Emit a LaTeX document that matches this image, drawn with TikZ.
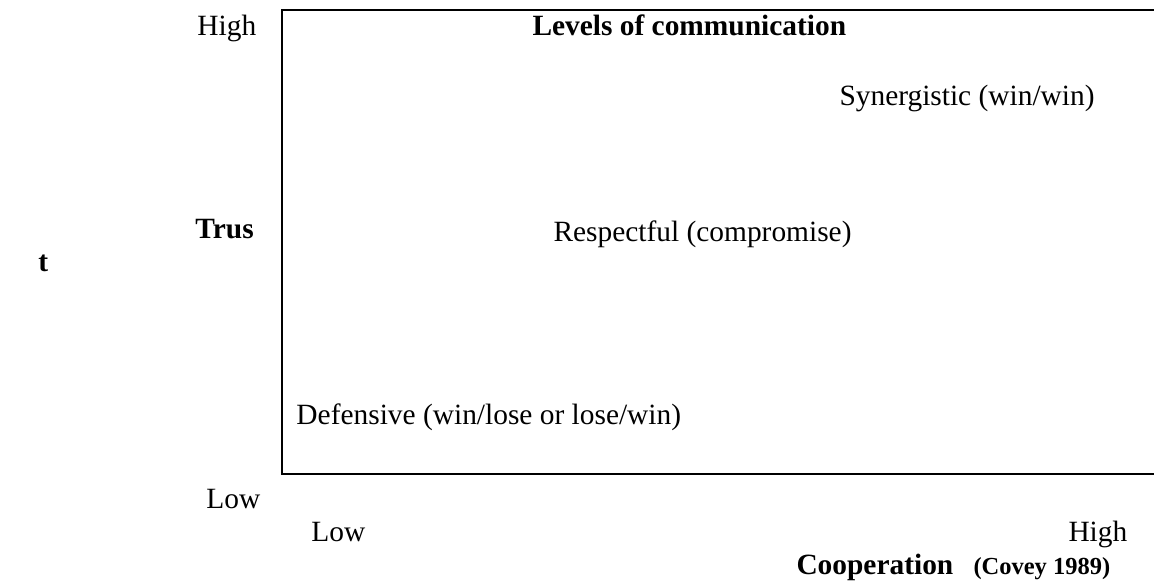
\documentclass[tikz,border=0pt]{standalone}
\usepackage{fontspec}
\setmainfont{Liberation Serif}
\tikzset{
  lbl/.style={anchor=base west, inner sep=0pt, font=\fontsize{12}{14}\selectfont},
  blbl/.style={lbl, font=\fontsize{12}{14}\selectfont\bfseries}
}
\begin{document}
\begin{tikzpicture}[x=0.01435cm, y=0.01435cm]
        \useasboundingbox (0,0) rectangle (1154,582);
        \draw[line width=0.8pt] (1160,572) -- (282,572) -- (282,108) -- (1160,108);
        \node[lbl] (trusthigh) at (197,546) {High};
        \node[blbl] (title) at (532,546) {Levels of communication};
        \node[lbl] (synergy) at (839,476) {Synergistic (win/win)};
        \node[blbl] (trust) at (195,343) {Trus};
        \node[blbl] (trustend) at (38,310) {t};
        \node[lbl] (respect) at (553,340) {Respectful (compromise)};
        \node[lbl] (defense) at (296,157) {Defensive (win/lose or lose/win)};
        \node[lbl] (trustlow) at (206,73) {Low};
        \node[lbl] (cooplow) at (311,40) {Low};
        \node[lbl] (coophigh) at (1068,40) {High};
        \node[blbl] (coop) at (796,7) {Cooperation};
        \node[lbl, font=\fontsize{10}{12}\selectfont\bfseries] (source) at (973,7) {(Covey 1989)};
      \end{tikzpicture}
\end{document}
